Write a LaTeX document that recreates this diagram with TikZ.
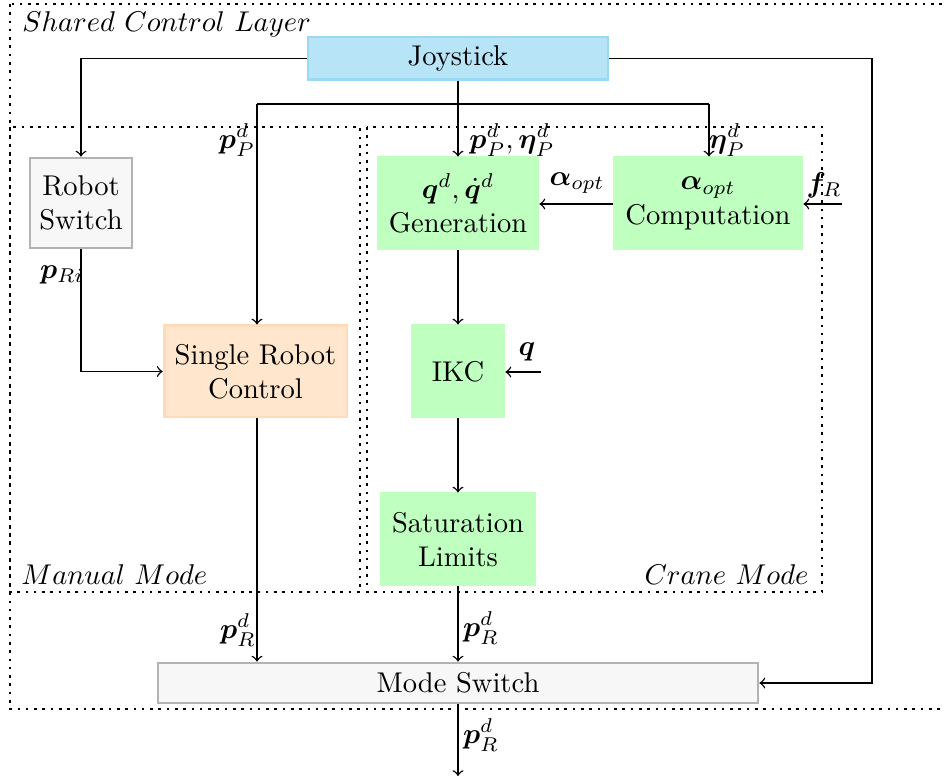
\documentclass[tikz,border=0pt]{standalone}
\usepackage{amsmath,bm}
\begin{document}
\begin{tikzpicture}[x=0.35pt,y=-0.35pt,
  box/.style={draw, line width=1pt, inner sep=0pt, align=center},
  blue/.style={box, fill={rgb,255:red,184;green,228;blue,248}, draw={rgb,255:red,155;green,216;blue,242}},
  green/.style={box, fill={rgb,255:red,191;green,255;blue,191}, draw={rgb,255:red,191;green,255;blue,191}},
  orange/.style={box, fill={rgb,255:red,255;green,230;blue,204}, draw={rgb,255:red,255;green,220;blue,185}},
  gray/.style={box, fill={rgb,255:red,247;green,247;blue,247}, draw={rgb,255:red,179;green,179;blue,179}},
  conn/.style={->, line width=0.5pt},
  region/.style={dotted, line width=0.9pt},
  lbl/.style={inner sep=1pt}]
\useasboundingbox (0,0) rectangle (944,781);
% regions
\draw[region] (10,4) rectangle (960,709);
\draw[region] (10,127) rectangle (360,592);
\draw[region] (367,127) rectangle (822,592);
\node[lbl, anchor=west] (tshared) at (19,24) {$Shared\ Control\ Layer$};
\node[lbl, anchor=west] (tmanual) at (18,575) {$Manual\ Mode$};
\node[lbl, anchor=east] (tcrane) at (812,575) {$Crane\ Mode$};
% nodes
\node[blue, minimum width=105pt, minimum height=15pt] (js) at (458,58.5) {Joystick};
\node[gray, minimum width=35.7pt, minimum height=31.5pt] (rs) at (81,203) {Robot\\Switch};
\node[orange, minimum width=64pt, minimum height=31.9pt] (src) at (255.5,371.5) {Single Robot\\Control};
\node[green, minimum width=56pt, minimum height=31.9pt] (gen) at (458,203.5) {$\bm{q}^d, \dot{\bm{q}}^d$\\Generation};
\node[green, minimum width=65.8pt, minimum height=31.9pt] (comp) at (708,203.5) {$\bm{\alpha}_{opt}$\\Computation};
\node[green, minimum width=32.2pt, minimum height=31.9pt] (ikc) at (458,371.5) {IKC};
\node[green, minimum width=53.9pt, minimum height=31.9pt] (sat) at (458,539.5) {Saturation\\Limits};
\node[gray, minimum width=210pt, minimum height=14pt] (ms) at (458,683) {Mode Switch};
% coordinates
\coordinate (bl) at (257,104);
\coordinate (br) at (709,104);
\coordinate (jr) at (872,58.5);
\coordinate (fin) at (842,204);
\coordinate (qin) at (541,372);
\coordinate (out) at (458,776);
% connectors
\draw[conn] (js.west) -| (rs.north);
\draw[conn] (js.south) -- (gen.north);
\draw[line width=0.5pt] (bl) -- (br);
\draw[conn] (bl) -- (src.north -| bl);
\draw[conn] (br) -- (comp.north -| br);
\draw[conn] (js.east) -- (jr) |- (ms.east);
\draw[conn] (rs.south) |- (src.west);
\draw[conn] (src.south -| bl) -- (ms.north -| bl);
\draw[conn] (comp.west |- fin) -- (gen.east |- fin);
\draw[conn] (fin) -- (comp.east |- fin);
\draw[conn] (gen.south) -- (ikc.north);
\draw[conn] (qin) -- (ikc.east |- qin);
\draw[conn] (ikc.south) -- (sat.north);
\draw[conn] (sat.south) -- (ms.north -| sat.south);
\draw[conn] (ms.south) -- (out);
% labels
\node[lbl] (lpp) at (237,140) {$\bm{p}_P^d$};
\node[lbl] (lpe) at (512,140) {$\bm{p}_P^d, \bm{\eta}_P^d$};
\node[lbl] (le) at (727,140) {$\bm{\eta}_P^d$};
\node[lbl] (la) at (577,183) {$\bm{\alpha}_{opt}$};
\node[lbl] (lf) at (824,185) {$\bm{f}_R$};
\node[lbl] (lpr) at (62,275) {$\bm{p}_{Ri}$};
\node[lbl] (lq) at (527,352) {$\bm{q}$};
\node[lbl] (lr1) at (238,630) {$\bm{p}_R^d$};
\node[lbl] (lr2) at (481,628) {$\bm{p}_R^d$};
\node[lbl] (lr3) at (481,735) {$\bm{p}_R^d$};
\end{tikzpicture}
\end{document}
